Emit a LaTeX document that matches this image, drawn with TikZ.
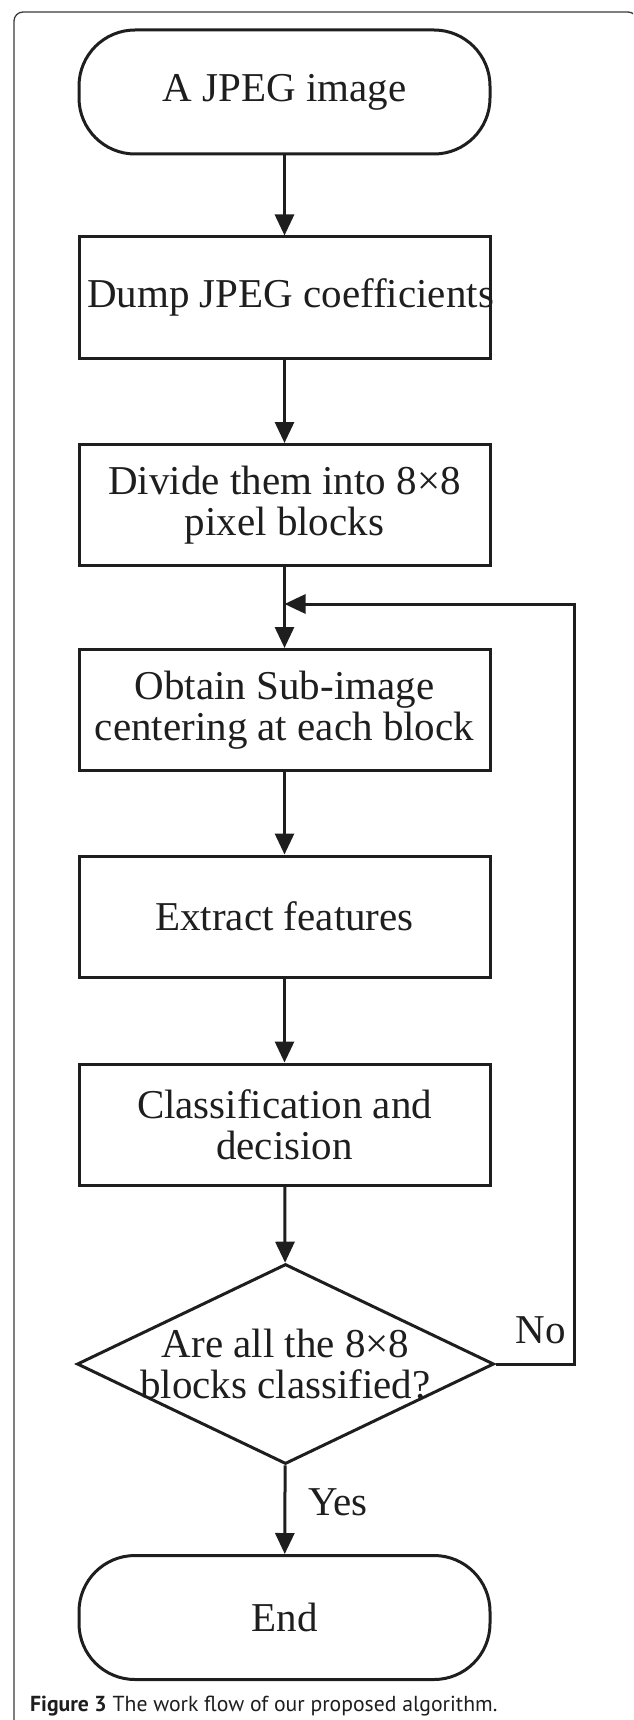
\documentclass[tikz,border=0pt]{standalone}
\usepackage{fontspec}
\setmainfont{Liberation Serif}
\newfontfamily\capfont{PT Sans}
\usetikzlibrary{shapes.geometric,arrows.meta}

\definecolor{ink}{HTML}{1E1E1E}
\definecolor{framecol}{HTML}{3A3A3A}

\begin{document}
\begin{tikzpicture}[x=1pt,y=-1pt,
  txt/.style={font=\fontsize{41}{41}\selectfont, text=ink, align=center},
  proc/.style={txt, draw=ink, line width=3pt, minimum width=411pt,
    minimum height=121pt, inner sep=0pt},
  term/.style={proc, rounded corners=56pt, minimum height=124pt},
  decide/.style={draw=ink, line width=3pt, diamond, inner sep=0pt,
    minimum width=417pt, minimum height=200pt},
  flow/.style={draw=ink, line width=3pt,
    -{Triangle[length=21pt,width=19pt]}},
  link/.style={draw=ink, line width=3pt},
  caption/.style={font=\capfont\fontsize{21.7}{23}\selectfont, text=ink,
    anchor=base west, inner sep=0pt}]

  % page size and the panel frame, open at the right and bottom
  \useasboundingbox (0,0) rectangle (633,1720);
  \clip (0,0) rectangle (633,1720);
  \draw[framecol, line width=1.3pt, rounded corners=9pt]
    (14,1760) -- (14,12) -- (637,12) -- (637,1760);

  % flow chart nodes
  \node[term] (start) at (284.5,92) {A JPEG image};
  \node[proc] (dump) at (284.5,297.5) {};
  \node[txt, inner sep=0pt] (dumptext) at ([xshift=6pt]dump.center)
    {Dump JPEG coefficients};
  \node[proc] (divide) at (284.5,505) {Divide them into 8×8\\pixel blocks};
  \node[proc] (obtain) at (284.5,710) {Obtain Sub-image\\centering at each block};
  \node[proc] (extract) at (284.5,916.5) {Extract features};
  \node[proc] (classify) at (284.5,1124.5) {Classification and\\decision};
  \node[decide] (check) at (285.5,1364) {};
  \node[txt, inner sep=0pt] (question) at (check.center)
    {Are all the 8×8\\blocks classified?};
  \node[term] (finish) at (284.5,1617.5) {End};

  % loop-back junction and corner
  \coordinate (merge) at (284.5,604);
  \coordinate (turn) at (574,1364);

  % connectors
  \draw[flow] (start) -- (dump);
  \draw[flow] (dump) -- (divide);
  \draw[link] (divide) -- (merge);
  \draw[flow] (merge) -- (obtain);
  \draw[flow] (obtain) -- (extract);
  \draw[flow] (extract) -- (classify);
  \draw[flow] (classify) -- (check);
  \draw[flow] (check) -- (finish);
  \draw[flow] (check.east) -- (turn) |- (merge);

  % branch labels
  \node[txt, inner sep=0pt] (no) at (541,1330) {No};
  \node[txt, inner sep=0pt] (yes) at (338,1502) {Yes};

  % caption
  \node[caption] (cap) at (30,1711)
    {\textbf{Figure 3} The work flow of our proposed algorithm.};
\end{tikzpicture}
\end{document}
